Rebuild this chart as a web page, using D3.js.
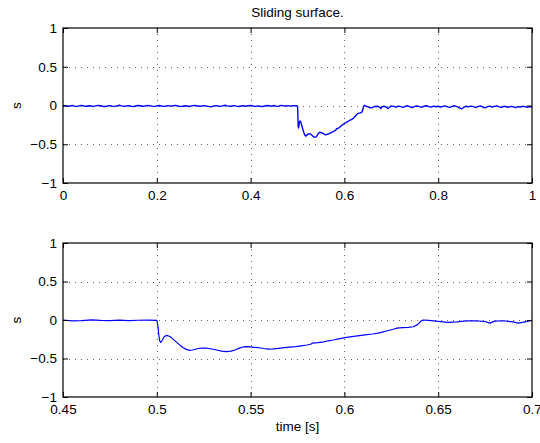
<!DOCTYPE html>
<html><head><meta charset="utf-8">
<script src="https://cdnjs.cloudflare.com/ajax/libs/d3/7.8.5/d3.min.js"></script>
<style>
body{margin:0;background:#fff;}
svg{display:block;}
text{font-family:"Liberation Sans",Arial,Helvetica,sans-serif;}
</style></head>
<body><svg id="c" width="540" height="443"></svg>
<script>
// ---- data ----
const titleText = "Sliding surface.";
const yLabelText = "s";
const xLabelText = "time [s]";
const topXTicks = [0, 0.2, 0.4, 0.6, 0.8, 1];
const bottomXTicks = [0.45, 0.5, 0.55, 0.6, 0.65, 0.7];
const yTicks = [-1, -0.5, 0, 0.5, 1];
const topXDomain = [0, 1];
const bottomXDomain = [0.45, 0.7];
const yDomain = [-1, 1];

// quiet part before the disturbance
const preTime = [0,0.005,0.01,0.015,0.02,0.025,0.03,0.035,0.04,0.045,0.05,0.055,0.06,0.065,0.07,0.075,0.08,0.085,0.09,0.095,
0.1,0.105,0.11,0.115,0.12,0.125,0.13,0.135,0.14,0.145,0.15,0.155,0.16,0.165,0.17,0.175,0.18,0.185,0.19,0.195,
0.2,0.205,0.21,0.215,0.22,0.225,0.23,0.235,0.24,0.245,0.25,0.255,0.26,0.265,0.27,0.275,0.28,0.285,0.29,0.295,
0.3,0.305,0.31,0.315,0.32,0.325,0.33,0.335,0.34,0.345,0.35,0.355,0.36,0.365,0.37,0.375,0.38,0.385,0.39,0.395,
0.4,0.405,0.41,0.415,0.42,0.425,0.43,0.435,0.44,0.445,0.45,0.455,0.46,0.465,0.47,0.475,0.48,0.485,0.49,0.495];
const preS = [0.000,-0.005,-0.010,-0.005,0.000,-0.008,-0.012,-0.004,0.002,-0.006,
-0.010,-0.003,-0.007,-0.012,-0.005,0.001,-0.004,-0.009,-0.013,-0.006,
-0.002,-0.008,-0.011,-0.004,0.003,-0.005,-0.010,-0.007,-0.002,-0.009,
-0.014,-0.006,0.000,-0.004,-0.010,-0.006,0.002,-0.003,-0.008,-0.012,
-0.005,0.000,-0.006,-0.011,-0.007,-0.002,-0.008,-0.004,0.001,-0.006,
-0.012,-0.009,-0.003,-0.007,-0.013,-0.005,0.002,-0.004,-0.010,-0.006,
-0.001,-0.007,-0.012,-0.018,-0.008,-0.002,-0.006,-0.011,-0.004,0.003,
-0.005,-0.010,-0.006,-0.001,-0.008,-0.013,-0.006,-0.002,-0.009,-0.004,
0.001,-0.006,-0.011,-0.005,-0.009,-0.014,-0.006,0.000,-0.004,-0.009,
0.000,-0.012,-0.008,0.002,-0.004,-0.007,-0.002,-0.008,-0.003,-0.001];

// transient after the disturbance at t = 0.5 s
const transTime = [0.5,0.5005,0.501,0.5015,0.5021,0.503,0.504,0.5053,0.507,0.509,0.5106,0.5125,0.5141,0.516,0.5175,0.519,0.5205,0.522,0.524,0.526,
0.528,0.53,0.532,0.5345,0.537,0.5395,0.5417,0.544,0.546,0.548,0.55,0.552,0.5545,0.557,0.5595,0.562,0.565,0.568,0.571,0.574,
0.577,0.58,0.582,0.583,0.586,0.589,0.5914,0.594,0.597,0.6003,0.603,0.606,0.609,0.612,0.615,0.618,0.6207,0.623,0.626,0.628,
0.631,0.634,0.6367,0.639,0.641,0.642];
const transS = [-0.005,-0.06,-0.18,-0.27,-0.29,-0.26,-0.215,-0.2,-0.215,-0.255,-0.29,-0.33,-0.36,-0.385,-0.395,-0.39,-0.38,-0.37,-0.365,-0.365,
-0.37,-0.38,-0.39,-0.405,-0.41,-0.405,-0.39,-0.365,-0.35,-0.345,-0.35,-0.355,-0.36,-0.37,-0.378,-0.375,-0.368,-0.36,-0.352,-0.345,
-0.335,-0.325,-0.315,-0.3,-0.295,-0.285,-0.27,-0.26,-0.245,-0.228,-0.22,-0.21,-0.2,-0.19,-0.182,-0.17,-0.155,-0.14,-0.12,-0.105,
-0.098,-0.095,-0.088,-0.06,-0.01,0.0];

// quiet part after recovery
const postTime = [0.645,0.65,0.655,0.66,0.665,0.67,0.675,0.6775,0.68,0.685,0.69,0.6925,0.695,0.7,
0.705,0.71,0.715,0.72,0.725,0.73,0.735,0.74,0.745,0.75,0.755,0.76,0.765,0.77,0.775,0.78,0.785,0.79,0.795,
0.8,0.805,0.81,0.815,0.82,0.825,0.83,0.835,0.84,0.845,0.85,0.855,0.86,0.865,0.87,0.875,0.88,0.885,0.89,0.895,
0.9,0.905,0.91,0.915,0.92,0.925,0.93,0.935,0.94,0.945,0.95,0.955,0.96,0.965,0.97,0.975,0.98,0.985,0.99,0.995,1];
const postS = [-0.005,-0.017,-0.03,-0.025,-0.012,-0.01,-0.02,-0.04,-0.015,-0.01,-0.025,-0.04,-0.03,-0.005,
-0.012,-0.02,-0.008,-0.015,-0.025,-0.01,-0.004,-0.018,-0.028,-0.012,-0.006,-0.015,-0.022,-0.01,-0.003,-0.014,-0.02,-0.008,-0.016,
-0.01,-0.02,-0.012,-0.005,-0.018,-0.025,-0.01,-0.004,-0.015,-0.03,-0.045,-0.02,-0.01,-0.018,-0.008,-0.015,-0.028,-0.012,-0.006,-0.02,
-0.03,-0.015,-0.008,-0.02,-0.012,-0.005,-0.018,-0.025,-0.01,-0.016,-0.022,-0.012,-0.018,-0.028,-0.015,-0.02,-0.01,-0.014,-0.022,-0.015,-0.02];

const timeAll = preTime.concat(transTime, postTime);
const sAll = preS.concat(transS, postS);
const series = timeAll.map((t, i) => ({t: t, s: sAll[i]}));

// ---- layout ----
const svg = d3.select("#c");
const left = 63, right = 532;
const panels = [
  {top: 28, bottom: 183, xDomain: topXDomain, xTicks: topXTicks, fmt: d => String(d), lw: 1.4},
  {top: 243, bottom: 397, xDomain: bottomXDomain, xTicks: bottomXTicks, fmt: d => String(d), lw: 1.2}
];
const yFmt = d => (d < 0 ? "\u2212" + String(-d) : String(d));
const fontSize = 13.5;

panels.forEach((p, idx) => {
  const x = d3.scaleLinear().domain(p.xDomain).range([left, right]);
  const y = d3.scaleLinear().domain(yDomain).range([p.bottom, p.top]);
  const g = svg.append("g");

  // grid (dotted)
  const grid = g.append("g").attr("stroke", "#000").attr("stroke-width", 1)
    .attr("stroke-dasharray", "1,5").attr("opacity", 0.6);
  p.xTicks.slice(1, -1).forEach(v => {
    grid.append("line").attr("x1", Math.round(x(v)) + 0.5).attr("x2", Math.round(x(v)) + 0.5)
      .attr("y1", p.top).attr("y2", p.bottom);
  });
  yTicks.slice(1, -1).forEach(v => {
    grid.append("line").attr("y1", Math.round(y(v)) + 0.5).attr("y2", Math.round(y(v)) + 0.5)
      .attr("x1", left).attr("x2", right);
  });

  // line
  const clipId = "clip" + idx;
  svg.append("defs").append("clipPath").attr("id", clipId)
    .append("rect").attr("x", left).attr("y", p.top).attr("width", right - left).attr("height", p.bottom - p.top);
  g.append("path").datum(series.filter(d => d.t >= p.xDomain[0] - 0.01 && d.t <= p.xDomain[1] + 0.01))
    .attr("clip-path", "url(#" + clipId + ")")
    .attr("fill", "none").attr("stroke", "#0000ff").attr("stroke-width", p.lw)
    .attr("stroke-linejoin", "round")
    .attr("d", d3.line().x(d => x(d.t)).y(d => y(d.s)));

  // axes
  const xb = d3.axisBottom(x).tickValues(p.xTicks).tickFormat(p.fmt).tickSizeInner(-5).tickSizeOuter(0).tickPadding(7);
  const xt = d3.axisTop(x).tickValues(p.xTicks).tickFormat("").tickSizeInner(-5).tickSizeOuter(0);
  const yl = d3.axisLeft(y).tickValues(yTicks).tickFormat(yFmt).tickSizeInner(-5).tickSizeOuter(0).tickPadding(6);
  const yr = d3.axisRight(y).tickValues(yTicks).tickFormat("").tickSizeInner(-5).tickSizeOuter(0);
  [[xb, "translate(0," + p.bottom + ")"], [xt, "translate(0," + p.top + ")"],
   [yl, "translate(" + left + ",0)"], [yr, "translate(" + right + ",0)"]].forEach(([ax, tr]) => {
    const a = g.append("g").attr("transform", tr).call(ax);
    a.select(".domain").remove();
    a.selectAll("line").attr("stroke", "#000");
    a.selectAll("text").attr("fill", "#000").style("font-size", fontSize + "px")
      .style("font-family", "'Liberation Sans', Arial, sans-serif");
  });
  // box
  g.append("rect").attr("x", left).attr("y", p.top).attr("width", right - left).attr("height", p.bottom - p.top)
    .attr("fill", "none").attr("stroke", "#000").attr("stroke-width", 1.2);

  // y label
  g.append("text").attr("transform", "translate(21," + ((p.top + p.bottom) / 2) + ") rotate(-90)")
    .attr("text-anchor", "middle").style("font-size", fontSize + "px").text(yLabelText);
});

svg.append("text").attr("x", (left + right) / 2).attr("y", 16.5).attr("text-anchor", "middle")
  .style("font-size", fontSize + "px").text(titleText);
svg.append("text").attr("x", (left + right) / 2).attr("y", 431).attr("text-anchor", "middle")
  .style("font-size", fontSize + "px").text(xLabelText);
</script></body></html>
